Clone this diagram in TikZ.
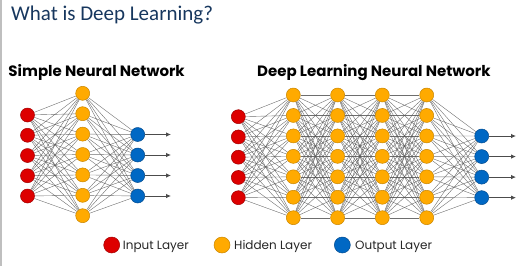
\documentclass[tikz,border=0pt]{standalone}
\usepackage{fontspec}
\setmainfont{Carlito}
\newfontfamily\headfont{Poppins}
\usetikzlibrary{backgrounds,arrows.meta}
\definecolor{inred}{HTML}{DD0000}
\definecolor{inredD}{HTML}{A00000}
\definecolor{hidor}{HTML}{FFAA00}
\definecolor{hidorD}{HTML}{C88500}
\definecolor{outbl}{HTML}{0068C4}
\definecolor{outblD}{HTML}{004A8E}
\definecolor{titleblue}{HTML}{17375E}
\definecolor{edgegray}{HTML}{555555}
\tikzset{
  neuron/.style={circle,minimum size=14pt,inner sep=0pt,line width=0.5pt},
  inneuron/.style={neuron,fill=inred,draw=inredD},
  hidneuron/.style={neuron,fill=hidor,draw=hidorD},
  outneuron/.style={neuron,fill=outbl,draw=outblD},
  legneuron/.style={circle,minimum size=16pt,inner sep=0pt,line width=0.5pt},
  edge/.style={draw=edgegray,line width=0.4pt,draw opacity=0.85},
  outarrow/.style={draw=black!70,line width=0.8pt,-{Latex[length=5pt,width=4.5pt]}},
  heading/.style={font=\headfont\bfseries\fontsize{15}{17}\selectfont,anchor=base west,inner sep=0pt},
  legtext/.style={font=\headfont\fontsize{12}{14}\selectfont,anchor=base west,inner sep=0pt,text=black!85}
}
\begin{document}
\begin{tikzpicture}[x=1pt,y=-1pt]
\useasboundingbox (0,0) rectangle (521,266);
\draw[black!25,line width=1.2pt] (1,0) -- (1,266);
% title and headings
\node[anchor=base west,inner sep=0pt,text=titleblue,font=\fontsize{21}{24}\selectfont] (title) at (11,20.7) {What is Deep Learning?};
\node[heading] (h1) at (8.3,76) {Simple Neural Network};
\node[heading] (h2) at (257,76) {Deep Learning Neural Network};
% ---------- simple network ----------
\foreach \i in {0,...,4} \node[inneuron] (sI\i) at (27.5,115+20.25*\i) {};
\foreach \j in {0,...,6} \node[hidneuron] (sH\j) at (82.7,93.3+20.4*\j) {};
\foreach \k in {0,...,3} {
  \node[outneuron] (sO\k) at (137.7,134.5+20.5*\k) {};
  \coordinate (sE\k) at (171,134.5+20.5*\k);
}
% ---------- deep network ----------
\foreach \i in {0,...,4} \node[inneuron] (dI\i) at (238.3,116.7+20.25*\i) {};
\foreach \L/\x in {1/293.3,2/337.6,3/382.3,4/426.7}
  \foreach \j in {0,...,6} \node[hidneuron] (dH\L-\j) at (\x,95+20.45*\j) {};
\foreach \k in {0,...,3} {
  \node[outneuron] (dO\k) at (481.7,136+20.55*\k) {};
  \coordinate (dE\k) at (516,136+20.55*\k);
}
% ---------- edges ----------
\begin{scope}[on background layer]
\foreach \i in {0,...,4} \foreach \j in {0,...,6} \draw[edge] (sI\i) -- (sH\j);
\foreach \j in {0,...,6} \foreach \k in {0,...,3} \draw[edge] (sH\j) -- (sO\k);
\foreach \i in {0,...,4} \foreach \j in {0,...,6} \draw[edge] (dI\i) -- (dH1-\j);
\foreach \L/\M in {1/2,2/3,3/4}
  \foreach \j in {0,...,6} \foreach \m in {0,...,6} \draw[edge] (dH\L-\j) -- (dH\M-\m);
\foreach \j in {0,...,6} \foreach \k in {0,...,3} \draw[edge] (dH4-\j) -- (dO\k);
\end{scope}
\foreach \k in {0,...,3} {
  \draw[outarrow] (sO\k) -- (sE\k);
  \draw[outarrow] (dO\k) -- (dE\k);
}
% ---------- legend ----------
\node[legneuron,fill=inred,draw=inredD] (lI) at (111.7,245) {};
\node[legtext] (lIt) at (122.7,249.5) {Input Layer};
\node[legneuron,fill=hidor,draw=hidorD] (lH) at (222,245) {};
\node[legtext] (lHt) at (234,249.5) {Hidden Layer};
\node[legneuron,fill=outbl,draw=outblD] (lO) at (342.3,245) {};
\node[legtext] (lOt) at (355,249.5) {Output Layer};
\end{tikzpicture}
\end{document}
